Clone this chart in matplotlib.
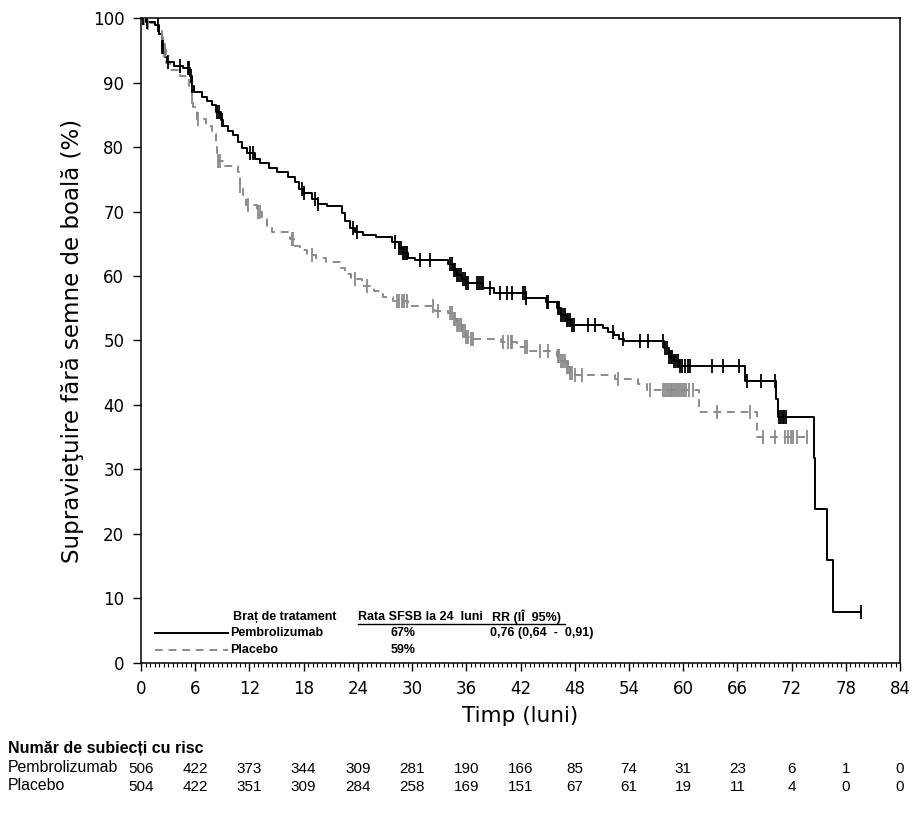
import numpy as np
import matplotlib
matplotlib.use("Agg")
import matplotlib.pyplot as plt
from matplotlib.ticker import MultipleLocator
from matplotlib.transforms import blended_transform_factory
from matplotlib import font_manager

# Kaplan-Meier steps (time in months, survival in %)
pembro_t = [0, 0.5, 1.5, 2.0, 2.3, 2.6, 2.9, 3.6, 4.6, 5.4, 5.6, 5.9, 6.8, 7.3, 7.9, 8.3,
            8.8, 9.1, 9.6, 10.2, 10.7, 11.2, 11.7, 12.6, 13.2, 14.2, 15.0, 16.3, 17.0, 17.5,
            18.0, 18.9, 19.6, 20.6, 22.2, 22.6, 23.1, 23.7, 24.6, 26.0, 27.8, 28.5, 29.0,
            29.6, 30.3, 34.0, 34.5, 35.0, 35.5, 36.0, 37.9, 39.1, 42.6, 44.8, 46.0, 46.5,
            47.0, 47.6, 51.1, 51.7, 52.3, 52.9, 53.5, 57.9, 58.4, 59.0, 59.5, 66.8, 70.3,
            70.5, 74.5, 74.6, 75.9, 76.6]
pembro_s = [100, 99.4, 98.9, 97.5, 95.5, 94.0, 93.2, 92.6, 92.2, 91.0, 89.5, 88.5, 87.8,
            87.2, 86.5, 85.4, 84.2, 83.3, 82.5, 81.8, 80.8, 79.8, 79.1, 78.2, 77.5, 76.8,
            76.2, 75.4, 74.5, 73.5, 72.8, 72.0, 71.2, 70.8, 69.8, 68.5, 67.5, 66.9, 66.4,
            66.0, 65.3, 64.3, 63.5, 62.8, 62.5, 61.8, 61.0, 60.2, 59.5, 58.9, 58.2, 57.3,
            56.6, 56.0, 55.0, 54.0, 53.2, 52.4, 51.9, 51.3, 50.8, 50.3, 49.9, 48.8, 47.5,
            46.8, 46.1, 43.7, 41.0, 38.2, 31.8, 23.9, 15.9, 7.95]
pembro_end = 79.7

placebo_t = [0, 0.5, 1.5, 2.0, 2.4, 2.8, 3.2, 4.3, 5.3, 5.6, 5.8, 6.2, 7.2, 7.8, 8.3, 8.4,
             8.5, 9.3, 10.7, 10.9, 11.3, 11.6, 12.8, 13.4, 13.9, 14.5, 16.5, 16.9, 17.6,
             18.4, 19.4, 20.5, 22.0, 22.6, 23.2, 24.4, 25.8, 26.8, 27.9, 29.5, 32.5, 34.0,
             34.5, 35.0, 35.5, 36.0, 36.5, 39.8, 41.6, 43.0, 46.0, 46.5, 47.0, 47.5, 48.0,
             52.4, 55.0, 56.0, 61.8, 68.2]
placebo_s = [100, 99.3, 98.8, 97.0, 95.0, 93.0, 92.0, 91.0, 89.5, 87.8, 86.2, 84.3, 83.2,
             82.0, 80.7, 79.0, 77.8, 77.0, 76.2, 74.0, 72.5, 71.0, 70.0, 68.8, 67.8, 66.8,
             65.8, 64.6, 64.0, 63.3, 62.8, 62.1, 61.3, 60.3, 59.5, 58.4, 57.6, 56.8, 56.1,
             55.3, 54.5, 54.2, 53.3, 52.4, 51.4, 50.6, 50.2, 49.7, 49.0, 48.4, 47.6, 46.8,
             45.9, 45.0, 44.6, 44.0, 43.3, 42.3, 38.9, 35.0]
placebo_end = 73.7

pembro_cens = [0.2, 0.7, 1.9, 2.3, 2.4, 3.0, 4.3, 5.2, 5.35, 5.5, 5.6, 8.4, 8.6, 9.0, 12.1,
               12.4, 17.8, 18.0, 19.3, 19.6, 23.5, 23.9, 28.1, 28.5, 28.8, 29.0, 29.1, 29.3,
               29.4, 30.9, 32.0, 34.2, 34.4, 34.6, 34.8, 35.0, 35.2, 35.4, 35.6, 35.8, 36.0,
               36.2, 37.2, 37.4, 37.6, 37.8, 38.6, 39.7, 40.5, 41.1, 42.3, 42.5, 42.6, 44.9,
               45.0, 46.1, 46.3, 46.5, 46.7, 46.9, 47.1, 47.3, 47.5, 47.7, 47.9, 49.5, 50.2,
               52.2, 53.3, 55.2, 56.1, 57.8, 58.0, 58.2, 58.4, 58.6, 58.8, 59.0, 59.2, 59.4,
               59.7, 59.9, 60.2, 60.5, 60.8, 63.2, 64.4, 66.2, 67.1, 68.6, 70.2, 70.6, 70.8,
               71.0, 71.2, 71.4, 79.7]
placebo_cens = [0.3, 0.8, 2.3, 2.5, 2.7, 5.6, 6.3, 8.5, 8.7, 11.0, 11.8, 12.9, 13.2, 16.7,
                16.8, 18.9, 23.7, 25.0, 28.3, 28.6, 28.9, 29.1, 29.4, 32.3, 32.9, 34.2, 34.4,
                34.6, 34.8, 35.0, 35.2, 35.4, 35.6, 35.8, 36.0, 36.2, 36.5, 36.7, 40.1, 40.6,
                40.9, 41.1, 42.5, 42.7, 44.2, 45.0, 46.1, 46.3, 46.5, 46.7, 46.9, 47.1, 47.3,
                47.5, 47.7, 48.0, 48.8, 52.8, 56.3, 57.8, 58.0, 58.2, 58.4, 58.6, 58.8, 59.0,
                59.2, 59.4, 59.7, 59.9, 60.1, 60.3, 60.6, 61.1, 63.7, 67.4, 68.8, 70.2, 71.3,
                71.6, 71.9, 72.2, 72.6, 73.7]

# numbers at risk
risk_times = [0, 6, 12, 18, 24, 30, 36, 42, 48, 54, 60, 66, 72, 78, 84]
risk_pembro = [506, 422, 373, 344, 309, 281, 190, 166, 85, 74, 31, 23, 6, 1, 0]
risk_placebo = [504, 422, 351, 309, 284, 258, 169, 151, 67, 61, 19, 11, 4, 0, 0]

arms = ["Pembrolizumab", "Placebo"]
rate_24 = ["67%", "59%"]
hr_text = "0,76 (0,64  -  0,91)"

GRAY = "#8a8a8a"

names = {f.name for f in font_manager.fontManager.ttflist}
narrow = "Liberation Sans Narrow" if "Liberation Sans Narrow" in names else "Liberation Sans"


def step_at(t_ev, s_ev, t):
    idx = np.searchsorted(t_ev, t, side="right") - 1
    return np.asarray(s_ev)[idx]


fig = plt.figure(figsize=(9.17, 8.19), dpi=100)
ax = fig.add_axes([0.1538, 0.1905, 0.8277, 0.7875])

# curves
ax.step(pembro_t + [pembro_end], pembro_s + [pembro_s[-1]], where="post",
        color="black", lw=1.4, zorder=3)
ax.step(placebo_t + [placebo_end], placebo_s + [placebo_s[-1]], where="post",
        color=GRAY, lw=1.4, linestyle=(0, (4, 3)), zorder=2)

# censor marks
ax.plot(pembro_cens, step_at(pembro_t, pembro_s, pembro_cens), linestyle="none",
        marker="|", ms=10, mew=1.3, color="black", zorder=4)
ax.plot(placebo_cens, step_at(placebo_t, placebo_s, placebo_cens), linestyle="none",
        marker="|", ms=10, mew=1.3, color=GRAY, zorder=3)

ax.set_xlim(0, 84)
ax.set_ylim(0, 100)
ax.xaxis.set_major_locator(MultipleLocator(6))
ax.xaxis.set_minor_locator(MultipleLocator(0.5))
ax.yaxis.set_major_locator(MultipleLocator(10))
ax.tick_params(axis="both", which="major", direction="out", length=6, width=1,
               labelsize=12, pad=6)
ax.tick_params(axis="x", which="minor", direction="out", length=3, width=0.8)
for sp in ax.spines.values():
    sp.set_linewidth(1.1)

ax.set_xlabel("Timp (luni)", fontsize=15.5, labelpad=6)
ax.set_ylabel("Supravieţuire fără semne de boală (%)", fontsize=16.5, labelpad=6)

# legend block inside the axes
lg = dict(transform=ax.transAxes, fontsize=9, fontweight="bold",
          family="Liberation Sans", va="center")
ax.text(0.121, 0.0713, "Braț de tratament", ha="left", **lg)
ax.text(0.286, 0.0713, "Rata SFSB la 24  luni", ha="left", **lg)
ax.text(0.462, 0.0713, "RR (IÎ  95%)", ha="left", **lg)
ax.plot([0.286, 0.559], [0.0605, 0.0605], transform=ax.transAxes, color="black", lw=1)
row_y = [0.0465, 0.020]
ax.plot([0.018, 0.115], [row_y[0], row_y[0]], transform=ax.transAxes,
        color="black", lw=1.4)
ax.plot([0.018, 0.115], [row_y[1], row_y[1]], transform=ax.transAxes,
        color=GRAY, lw=1.4, linestyle=(0, (4, 3)))
for y, arm, rate in zip(row_y, arms, rate_24):
    ax.text(0.117, y, arm, ha="left", **lg)
    ax.text(0.345, y, rate, ha="center", **lg)
ax.text(0.46, row_y[0], hr_text, ha="left", **lg)

# numbers at risk table
tr = blended_transform_factory(ax.transData, fig.transFigure)
fig.text(8 / 917, 1 - 749 / 819, "Număr de subiecți cu risc", fontsize=11.5,
         fontweight="bold", family="Liberation Sans", va="center", ha="left")
fig.text(8 / 917, 1 - 768 / 819, arms[0], fontsize=11.4, family="Liberation Sans",
         va="center", ha="left")
fig.text(8 / 917, 1 - 785 / 819, arms[1], fontsize=11.4, family="Liberation Sans",
         va="center", ha="left")
for t, a, b in zip(risk_times, risk_pembro, risk_placebo):
    fig.text(t, 1 - 769 / 819, str(a), transform=tr, fontsize=11, family=narrow,
             ha="center", va="center")
    fig.text(t, 1 - 787 / 819, str(b), transform=tr, fontsize=11, family=narrow,
             ha="center", va="center")

fig.savefig("out.png", dpi=100)
